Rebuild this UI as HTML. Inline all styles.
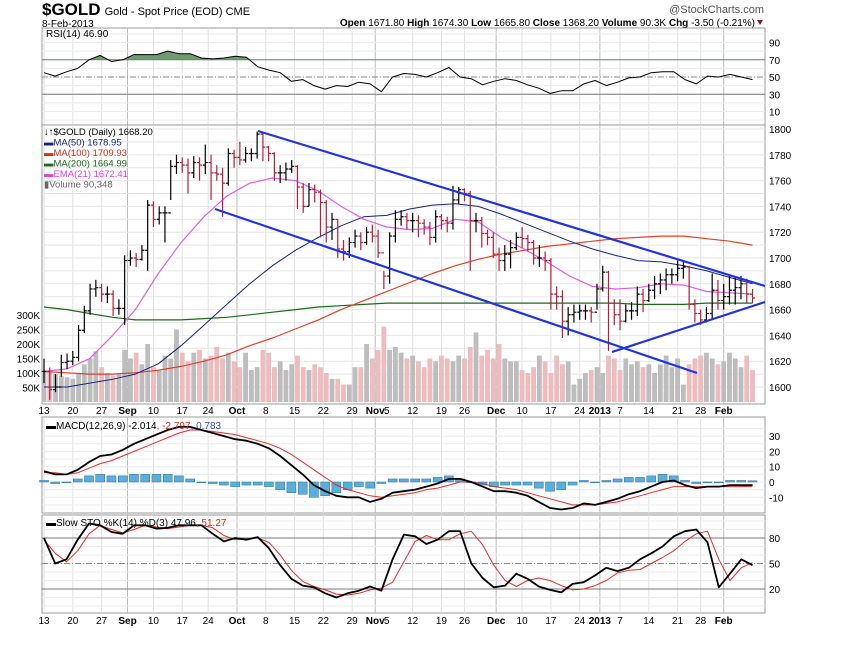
<!DOCTYPE html>
<html><head><meta charset="utf-8"><style>
body{margin:0;background:#fff;}
svg{display:block;font-family:"Liberation Sans",sans-serif;}
</style></head><body>
<svg id="c" width="850" height="668" viewBox="0 0 850 668">
<text x="42" y="15" font-size="17" font-weight="bold">$GOLD<tspan font-size="11" font-weight="normal" dx="4">Gold - Spot Price (EOD) CME</tspan></text>
<text x="42" y="27" font-size="10">8-Feb-2013</text>
<text x="764" y="13" font-size="11" fill="#555" text-anchor="end">@StockCharts.com</text>
<text x="755" y="26" font-size="10" text-anchor="end"><tspan font-weight="bold">Open</tspan> 1671.80 <tspan font-weight="bold">High</tspan> 1674.30 <tspan font-weight="bold">Low</tspan> 1665.80 <tspan font-weight="bold">Close</tspan> 1368.20 <tspan font-weight="bold">Volume</tspan> 90.3K <tspan font-weight="bold">Chg</tspan> -3.50 (-0.21%)</text>
<path d="M757 20 l6 0 l-3 5z" fill="#8b1a2b"/>
<g id="g"></g>
</svg>
<script>
const closes=[1612,1598,1600,1619,1620,1623,1644,1659,1676,1677,1672,1672,1661,1661,1698,1700,1699,1706,1741,1730,1735,1735,1771,1774,1772,1766,1774,1772,1774,1766,1765,1758,1781,1778,1776,1781,1781,1796,1786,1781,1766,1766,1769,1771,1755,1740,1753,1751,1743,1724,1730,1707,1705,1712,1717,1712,1720,1717,1704,1686,1717,1730,1732,1729,1729,1727,1724,1716,1732,1729,1727,1745,1753,1750,1729,1729,1719,1716,1703,1698,1703,1708,1716,1715,1712,1700,1700,1698,1672,1670,1651,1656,1658,1659,1659,1658,1676,1689,1665,1656,1651,1659,1659,1672,1667,1675,1680,1683,1687,1687,1692,1693,1664,1657,1652,1657,1675,1667,1670,1675,1677,1680,1672,1669];
const highs=[1622,1615,1610,1625,1626,1628,1648,1663,1680,1683,1680,1678,1675,1668,1702,1706,1704,1710,1745,1744,1740,1740,1776,1780,1778,1777,1779,1778,1788,1780,1772,1770,1785,1784,1790,1786,1785,1798,1797,1787,1782,1772,1774,1776,1772,1758,1758,1757,1753,1745,1735,1730,1714,1716,1722,1720,1724,1726,1722,1690,1720,1737,1737,1735,1735,1733,1730,1728,1737,1734,1732,1756,1755,1754,1752,1735,1732,1722,1720,1708,1710,1714,1720,1724,1718,1714,1710,1705,1700,1678,1675,1662,1664,1664,1664,1662,1680,1694,1690,1668,1668,1664,1666,1678,1676,1680,1686,1688,1692,1692,1698,1697,1694,1668,1660,1662,1688,1683,1680,1686,1685,1686,1684,1676];
const lows=[1603,1590,1596,1608,1614,1617,1620,1642,1656,1670,1666,1665,1655,1656,1648,1694,1693,1698,1690,1724,1726,1712,1745,1765,1766,1750,1762,1760,1765,1745,1760,1732,1756,1770,1772,1774,1775,1777,1775,1775,1760,1758,1760,1766,1738,1735,1740,1743,1716,1712,1714,1700,1698,1700,1708,1706,1710,1712,1700,1676,1680,1712,1725,1722,1720,1716,1718,1710,1712,1722,1720,1722,1742,1744,1690,1720,1708,1710,1700,1690,1690,1692,1706,1708,1705,1695,1693,1690,1660,1660,1638,1640,1650,1652,1652,1650,1660,1674,1628,1648,1644,1650,1652,1655,1658,1666,1668,1672,1675,1680,1682,1684,1660,1650,1648,1650,1652,1660,1660,1664,1664,1668,1665,1665];
const volumes=[110,105,95,90,85,80,100,130,150,175,120,100,90,95,180,150,170,130,200,120,110,160,150,250,170,140,170,180,150,160,190,150,170,140,120,170,110,120,180,170,120,140,110,130,160,120,110,130,120,100,80,80,60,60,120,120,200,150,180,260,180,190,170,150,160,140,120,150,140,160,150,140,160,150,190,240,160,180,150,200,150,140,140,110,100,120,160,140,100,160,130,140,60,80,100,110,120,100,160,150,110,150,130,140,120,130,100,130,160,120,150,60,130,150,160,170,150,130,140,170,150,120,160,110];
const ma200=[1662,1660,1657,1654,1652,1652,1652,1653,1654,1656,1658,1660,1662,1663,1664,1665,1665,1665,1665,1665,1665,1665,1665,1665,1665,1665,1664,1664,1664,1665,1665,1665];
const ma100=[1612,1611,1610,1610,1611,1613,1616,1620,1625,1632,1638,1645,1652,1660,1667,1674,1681,1688,1694,1699,1703,1706,1709,1711,1713,1715,1716,1717,1717,1715,1713,1710];
const ma50=[1600,1600,1603,1606,1610,1618,1632,1648,1664,1680,1694,1706,1716,1725,1732,1733,1738,1741,1742,1740,1734,1727,1720,1713,1707,1702,1698,1697,1694,1690,1685,1680];
const ema21=[1612,1614,1622,1640,1660,1688,1712,1732,1748,1758,1762,1760,1752,1740,1730,1724,1722,1723,1730,1728,1716,1707,1697,1686,1678,1676,1677,1680,1679,1674,1673,1672];
const rsi=[55,51,56,60,70,75,68,70,76,76,76,80,77,77,72,71,72,74,73,62,58,55,45,47,40,36,40,39,44,42,33,50,54,53,50,55,61,50,48,41,45,48,46,41,37,31,34,34,42,46,40,44,49,50,55,56,56,47,42,51,50,53,50,47];
const macd=[7,5,5,8,13,17,18,21,25,28,31,34,36,36,34,32,30,28,27,25,22,17,11,5,-2,-6,-9,-10,-10,-13,-11,-7,-6,-5,-3,-1,2,2,0,-3,-6,-6,-7,-9,-13,-17,-18,-17,-14,-15,-13,-11,-8,-6,-3,0,1,-2,-4,-3,-3,-2,-2,-2];
const macdSignal=[6,6,5,6,9,12,14,17,20,23,26,29,32,34,34,33,32,31,29,27,25,22,18,13,8,3,-2,-5,-7,-9,-10,-9,-8,-7,-5,-4,-2,0,0,-1,-3,-4,-5,-7,-9,-11,-13,-15,-15,-15,-14,-13,-11,-9,-7,-5,-3,-3,-3,-3,-3,-3,-3,-2.8];
const stoK=[80,50,55,78,97,95,87,85,95,95,91,92,95,95,95,85,76,80,78,81,68,48,32,24,22,15,10,15,18,23,18,55,84,82,73,78,88,88,50,33,22,24,38,32,23,19,16,26,28,36,45,41,45,55,62,70,82,88,90,75,22,38,55,48];
const stoD=[78,62,52,65,85,95,90,86,90,95,93,91,93,95,95,92,83,78,79,80,75,60,42,29,23,19,14,13,15,19,21,28,52,76,83,78,78,85,88,72,48,30,23,30,33,30,24,19,20,24,30,39,42,43,50,57,65,76,85,88,55,30,45,51];
const dateLabels=['13','20','27','Sep','10','17','24','Oct','8','15','22','29','Nov','5','12','19','26','Dec','10','17','24','2013','7','14','21','28','Feb'];
const dateBars=[0,5,10,14.5,19,24,28.5,33.5,38.5,43.5,48.5,53.5,57.5,59.5,64,69,73,78.5,83,88,93,96.5,100,105,110,114,118];
const priceTicks=[1600,1620,1640,1660,1680,1700,1720,1740,1760,1780,1800];
const volTicks=[50,100,150,200,250,300];

const L=42,R=765,N=closes.length;
const bx=i=>44+i*(752.5-44)/(N-1);
const sx=(j,n)=>bx(j*(N-1)/(n-1));
const py=p=>129+(1800-p)*1.29;
const vy=v=>402-v*0.29;
const ry=v=>77-(v-50)*0.8625;
const my=v=>482-v*1.53;
const sy=v=>538-(v-80)*0.85;
const NS='http://www.w3.org/2000/svg';
const G=document.getElementById('g');
function mk(tag,at,parent){const e=document.createElementNS(NS,tag);for(const k in at)e.setAttribute(k,at[k]);(parent||G).appendChild(e);return e;}
function txt(s,x,y,at){const e=mk('text',Object.assign({x:x,y:y,'font-size':10},at||{}));e.textContent=s;return e;}
const isMonth=s=>isNaN(+s)||s==='2013';
function hl(y,col,name){const l=mk('line',{x1:L,x2:R,y1:y,y2:y,stroke:col});return l;}

const panels=[[28,125,'rsi-panel'],[125,404,'price-panel'],[417,513,'macd-panel'],[515,613,'sto-panel']];
panels.forEach(p=>{
  const r=mk('rect',{x:L,y:p[0],width:R-L,height:p[1]-p[0],fill:'#fff',stroke:'#999','stroke-width':1});
  
  
  dateBars.forEach((b,k)=>{
    if(dateLabels[k]==='5')return;
    const gl=mk('line',{x1:bx(b),x2:bx(b),y1:p[0],y2:p[1],stroke:isMonth(dateLabels[k])?'#bbb':'#e2e2e2','stroke-width':1});
    
    
  });
});
for(let p=1600;p<=1800;p+=10)hl(py(p),'#e6e6e6','price-gridline');
for(let v=0;v<=100;v+=10)hl(ry(v),'#ececec','rsi-gridline');
for(let v=-15;v<=35;v+=5)hl(my(v),'#ececec','macd-gridline');
for(let v=0;v<=100;v+=10)hl(sy(v),'#ececec','sto-gridline');
priceTicks.forEach(p=>{const t=txt(p,769,py(p)+4);});
volTicks.forEach(v=>{const t=txt(v+'K',40,vy(v)+4,{'text-anchor':'end'});});

closes.forEach((c,i)=>{
  const up=i===0||c>=closes[i-1];
  const b=mk('rect',{x:bx(i)-2.4,y:vy(volumes[i]),width:4.8,height:402-vy(volumes[i]),fill:up?'#bdbdbd':'#ecbcbf'});
  
  
});
function line(arr,xf,yf,col,w,name){
  const d=arr.map((v,j)=>(j?'L':'M')+xf(j,arr.length).toFixed(1)+' '+yf(v).toFixed(1)).join(' ');
  const p=mk('path',{d:d,fill:'none',stroke:col,'stroke-width':w,'stroke-linejoin':'round'});
  
  
  return d;
}
line(ma200,sx,py,'#1a6a1a',1.2,'ma200-line');
line(ma100,sx,py,'#e0402a',1.2,'ma100-line');
line(ma50,sx,py,'#1a237e',1,'ma50-line');
line(ema21,sx,py,'#e060e0',1.2,'ema21-line');
closes.forEach((c,i)=>{
  const up=i===0||c>=closes[i-1];const col=up?'#000':'#b0203a';const x=bx(i);
  const o=i?closes[i-1]:c;
  const b=mk('path',{d:`M${x} ${py(highs[i])}V${py(lows[i])}M${x-2.5} ${py(o)}H${x}M${x} ${py(c)}H${x+2.5}`,stroke:col,'stroke-width':1.2,fill:'none'});
  
  
});
[[258,131,765,286,'upper-channel-line'],[215,209,697,373,'lower-channel-line'],[612,352,765,302,'support-line']].forEach(t=>{
  const l=mk('line',{x1:t[0],y1:t[1],x2:t[2],y2:t[3],stroke:'#2233dd','stroke-width':2.2});
  
  
});
const leg=[['↓↑$GOLD (Daily) 1668.20','#000'],['▬MA(50) 1678.95','#1a237e'],['▬MA(100) 1709.93','#d03020'],['▬MA(200) 1664.99','#1a6a1a'],['▬EMA(21) 1672.41','#e040e0'],['▮Volume 90,348','#666']];
leg.forEach((l,k)=>{const t=txt(l[0],44,135+k*10.5,{fill:l[1],'font-size':9.5});});

[[70,'#777'],[30,'#777']].forEach(a=>hl(ry(a[0]),a[1],'rsi-level-line'));
const l50=mk('line',{x1:L,x2:R,y1:ry(50),y2:ry(50),stroke:'#888','stroke-dasharray':'6 2 1 2'});


const cp=mk('clipPath',{id:'rc'});mk('rect',{x:L,y:28,width:R-L,height:ry(70)-28},cp);
const rd=rsi.map((v,j)=>(j?'L':'M')+sx(j,rsi.length).toFixed(1)+' '+ry(v).toFixed(1)).join(' ');
const rf=mk('path',{d:rd+` L${sx(rsi.length-1,rsi.length)} ${ry(70)} L${sx(0,rsi.length)} ${ry(70)}Z`,fill:'#6e9a70','clip-path':'url(#rc)'});


line(rsi,sx,ry,'#000',1,'rsi-line');
[90,70,50,30,10].forEach(v=>{const t=txt(v,769,ry(v)+4);});
const rt=txt('RSI(14) 46.90',46,37,{'font-size':10});



dateBars.forEach((b,k)=>{
  [414,624].forEach(y=>{
    const t=txt(dateLabels[k],bx(b),y,{'text-anchor':'middle','font-size':10,'font-weight':isMonth(dateLabels[k])?'bold':'normal'});
    
    
  });
});

[30,20,10,0,-10].forEach(v=>{const t=txt(v,769,my(v)+4);});
macd.forEach((v,j)=>{
  const h=v-macdSignal[j];const x=sx(j,macd.length);
  const b=mk('rect',{x:x-4.5,y:Math.min(my(h),my(0)),width:9,height:Math.max(0.8,Math.abs(my(h)-my(0))),fill:'#5aaedc',stroke:'#2d6f94','stroke-width':0.5});
  
  
});
line(macdSignal,sx,my,'#e0302a',1,'macd-signal-line');
line(macd,sx,my,'#000',1.8,'macd-line');
const mt=txt('',46,429,{'font-size':10});
mt.innerHTML='▬MACD(12,26,9) -2.014<tspan fill="#d03020">, -2.797</tspan><tspan fill="#3050b0">, 0.783</tspan>';



[[80,'#777'],[20,'#777']].forEach(a=>hl(sy(a[0]),a[1],'sto-level-line'));
const s50=mk('line',{x1:L,x2:R,y1:sy(50),y2:sy(50),stroke:'#888','stroke-dasharray':'6 2 1 2'});


[80,50,20].forEach(v=>{const t=txt(v,769,sy(v)+4);});
line(stoD,sx,sy,'#e0302a',1,'sto-d-line');
line(stoK,sx,sy,'#000',1.8,'sto-k-line');
const st=txt('',46,526,{'font-size':10});
st.innerHTML='▬Slow STO %K(14) %D(3) 47.96<tspan fill="#d03020">, 51.27</tspan>';


</script>
</body></html>
